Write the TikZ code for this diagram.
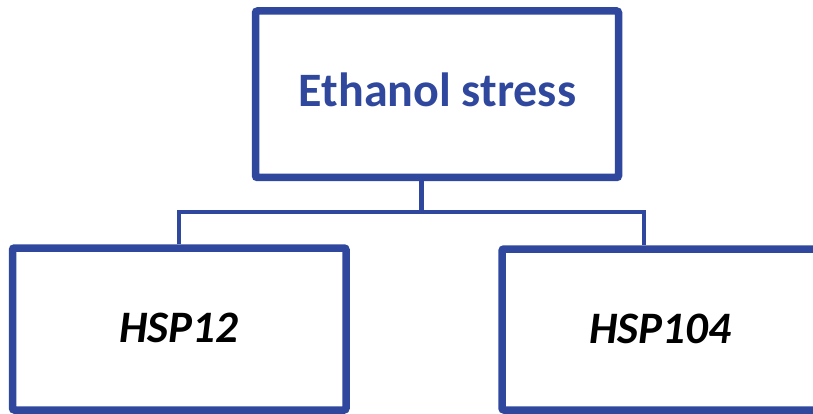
\documentclass[tikz,border=0pt]{standalone}
\usepackage{fontspec}
\setmainfont{Carlito}
\definecolor{boxblue}{RGB}{47,72,158}
\tikzset{
  box/.style={draw=boxblue, line width=7.5pt, rounded corners=2pt, fill=white, inner sep=0pt},
  link/.style={draw=boxblue, line width=4.5pt},
  title/.style={anchor=base, text=boxblue, font=\bfseries\fontsize{48}{58}\selectfont, inner sep=0pt},
  gene/.style={anchor=base, text=black, font=\bfseries\itshape\fontsize{45}{54}\selectfont, inner sep=0pt}
}
\begin{document}
\begin{tikzpicture}[x=1pt,y=-1pt]
  % page frame; the lower boxes run past its bottom and right edges
  \clip (0,0) rectangle (813,414);
  % junction points of the tree connector
  \coordinate (hub) at (421.5,212);
  \coordinate (lft) at (179,212);
  \coordinate (rgt) at (644,212);
  % boxes
  \node[box, minimum width=363pt, minimum height=166.5pt] (top) at (437,94.25) {};
  \node[box, minimum width=333.5pt, minimum height=162pt] (left) at (179.25,329) {};
  \node[box, minimum width=360pt, minimum height=161pt] (right) at (682,329.5) {};
  % connectors
  \draw[link] (hub |- top.south) -- (hub);
  \draw[link] (lft |- left.north) -- (lft) -- (rgt) -- (rgt |- right.north);
  % labels
  \node[title] (ttl) at (437.5,107) {Ethanol stress};
  \node[gene] (g1) at (179,342) {HSP12};
  \node[gene] (g2) at (660,343) {HSP104};
\end{tikzpicture}
\end{document}
